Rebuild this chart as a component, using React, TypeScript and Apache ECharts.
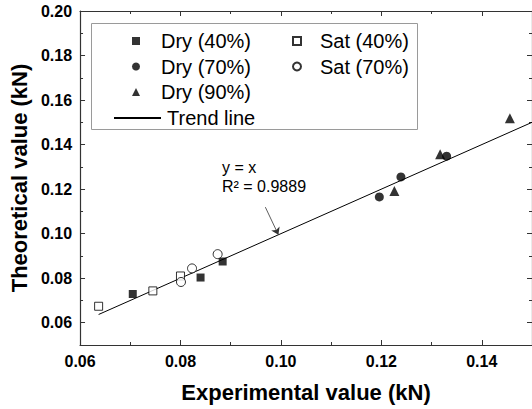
import React, { useEffect, useRef } from "react";
import * as echarts from "echarts";

const xMajor = [0.06, 0.08, 0.1, 0.12, 0.14];
const xMinor = [0.07, 0.09, 0.11, 0.13];
const yMajor = [0.06, 0.08, 0.1, 0.12, 0.14, 0.16, 0.18, 0.2];
const yMinor = [0.07, 0.09, 0.11, 0.13, 0.15, 0.17, 0.19];

const dry40 = [[0.0705, 0.0729], [0.084, 0.0803], [0.0884, 0.0875]];
const dry70 = [[0.1196, 0.1165], [0.1239, 0.1255], [0.133, 0.1348]];
const dry90 = [[0.1226, 0.1192], [0.1317, 0.1357], [0.1456, 0.1518]];
const sat40 = [[0.0637, 0.0674], [0.0745, 0.0743], [0.08, 0.081]];
const sat70 = [[0.0801, 0.0783], [0.0823, 0.0844], [0.0874, 0.0908]];
const trendLine = [[0.0637, 0.0637], [0.15, 0.15]];
const arrowFrom = [0.0969, 0.1119];
const arrowTo = [0.0995, 0.0995];

const FONT = "Liberation Sans, Arial, Helvetica, sans-serif";
const AXIS_COLOR = "#333";

function makeAxis(
  position: string,
  min: number,
  max: number,
  ticks: number[],
  len: number,
  opts: any = {}
) {
  return {
    type: "value",
    position,
    min,
    max,
    interval: 0.01,
    splitLine: { show: false },
    axisLine: { show: !!opts.line, onZero: false, lineStyle: { color: AXIS_COLOR, width: 1.2 } },
    axisTick: {
      show: true,
      inside: true,
      length: len,
      customValues: ticks,
      lineStyle: { color: AXIS_COLOR, width: 1 },
    },
    axisLabel: opts.labels
      ? {
          show: true,
          customValues: opts.labels,
          margin: 8,
          formatter: (v: number) => v.toFixed(2),
          fontFamily: FONT,
          fontWeight: "bold",
          fontSize: 16,
          color: "#000",
        }
      : { show: false },
    ...(opts.name
      ? {
          name: opts.name,
          nameLocation: "middle",
          nameGap: opts.nameGap,
          nameTextStyle: { fontFamily: FONT, fontWeight: "bold", fontSize: 22, color: "#000" },
        }
      : {}),
  };
}

export default function App() {
  const ref = useRef<HTMLDivElement>(null);
  useEffect(() => {
    if (!ref.current) return;
    const chart = echarts.init(ref.current, null, { renderer: "svg" });
    const xMin = 0.06, xMax = 0.15, yMin = 0.05, yMax = 0.2;
    const blackStyle = { color: "#000" };
    const hollowStyle = { color: "#fff", borderColor: "#000", borderWidth: 1 };
    chart.setOption({
      animation: false,
      backgroundColor: "#fff",
      grid: { left: 80, top: 11, right: -1, bottom: 64, containLabel: false },
      xAxis: [
        makeAxis("bottom", xMin, xMax, xMajor, 5, {
          line: true,
          labels: xMajor,
          name: "Experimental value (kN)",
          nameGap: 36,
        }),
        makeAxis("bottom", xMin, xMax, xMinor, 3),
        makeAxis("top", xMin, xMax, xMajor, 5, { line: true }),
        makeAxis("top", xMin, xMax, xMinor, 3),
      ],
      yAxis: [
        makeAxis("left", yMin, yMax, yMajor, 5, {
          line: true,
          labels: yMajor,
          name: "Theoretical value (kN)",
          nameGap: 47,
        }),
        makeAxis("left", yMin, yMax, yMinor, 3),
        makeAxis("right", yMin, yMax, yMajor, 5, { line: true }),
        makeAxis("right", yMin, yMax, yMinor, 3),
      ],
      legend: [
        {
          orient: "vertical",
          left: 127,
          top: 26,
          itemWidth: 8,
          itemHeight: 8,
          itemGap: 5.5,
          data: ["Dry (40%)", "Dry (70%)", "Dry (90%)"],
          textStyle: { fontFamily: FONT, fontSize: 20, color: "#000", padding: [0, 0, 0, 16] },
        },
        {
          orient: "vertical",
          left: 108,
          top: 103,
          itemWidth: 47,
          itemHeight: 8,
          itemStyle: { opacity: 0 },
          data: ["Trend line"],
          textStyle: { fontFamily: FONT, fontSize: 20, color: "#000", padding: [0, 0, 0, 1] },
        },
        {
          orient: "vertical",
          left: 287,
          top: 26,
          itemWidth: 8,
          itemHeight: 8,
          itemGap: 5.5,
          data: ["Sat (40%)", "Sat (70%)"],
          textStyle: { fontFamily: FONT, fontSize: 20, color: "#000", padding: [0, 0, 0, 14] },
        },
      ],
      graphic: [
        {
          type: "rect",
          z: 0,
          shape: { x: 91.5, y: 23.5, width: 326, height: 106 },
          style: { fill: "#fff", stroke: "#9a9a9a", lineWidth: 1 },
        },
        {
          type: "text",
          x: 222,
          y: 167,
          style: { text: "y = x", fontFamily: FONT, fontSize: 16, fill: "#000", verticalAlign: "middle" },
        },
        {
          type: "text",
          x: 222,
          y: 186,
          style: { text: "R\u00B2 = 0.9889", fontFamily: FONT, fontSize: 16, fill: "#000", verticalAlign: "middle" },
        },
      ],
      series: [
        {
          name: "Trend line",
          type: "line",
          data: trendLine,
          showSymbol: false,
          symbol: "none",
          lineStyle: { color: "#000", width: 1 },
          itemStyle: { color: "rgba(0,0,0,0)", borderWidth: 0 },
          z: 1,
          markLine: {
            silent: true,
            symbol: ["none", "arrow"],
            symbolSize: 7,
            label: { show: false },
            lineStyle: { color: "#333", width: 0.8, type: "solid" },
            data: [[{ coord: arrowFrom }, { coord: arrowTo }]],
          },
        },
        { name: "Dry (40%)", type: "scatter", symbol: "rect", symbolSize: 8, data: dry40, itemStyle: blackStyle, z: 3 },
        { name: "Dry (70%)", type: "scatter", symbol: "circle", symbolSize: 9, data: dry70, itemStyle: blackStyle, z: 3 },
        { name: "Dry (90%)", type: "scatter", symbol: "triangle", symbolSize: 10, data: dry90, itemStyle: blackStyle, z: 3 },
        { name: "Sat (40%)", type: "scatter", symbol: "rect", symbolSize: 8, data: sat40, itemStyle: hollowStyle, z: 3 },
        { name: "Sat (70%)", type: "scatter", symbol: "circle", symbolSize: 9, data: sat70, itemStyle: hollowStyle, z: 3 },
      ],
    });
    return () => chart.dispose();
  }, []);
  return (
    <div
      ref={ref}
      style={{ position: "absolute", left: 0, top: 0, width: 532, height: 409, background: "#fff" }}
    />
  );
}
